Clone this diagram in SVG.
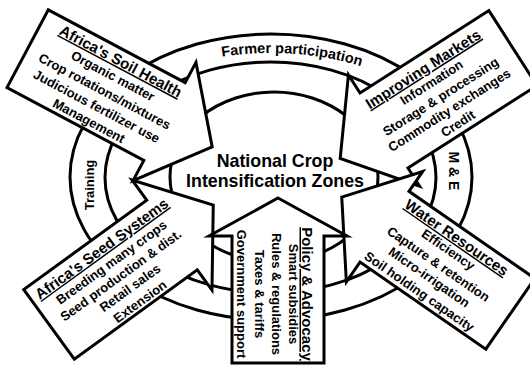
<svg xmlns="http://www.w3.org/2000/svg" width="530" height="365" viewBox="0 0 530 365">
  <style>
    .ring { fill: none; stroke: #000; stroke-width: 3; }
    .arrow { fill: #fff; stroke: #000; stroke-width: 3; stroke-linejoin: miter; stroke-miterlimit: 10; }
    text { font-family: "Liberation Sans", Arial, Helvetica, sans-serif; font-weight: bold; fill: #000; text-anchor: middle; }
    .head { font-size: 15px; text-decoration: underline; }
    .item { font-size: 13px; }
    .band { font-size: 14.5px; }
    .core { font-size: 17.8px; }
  </style>
  <defs>
    <path id="farmerArc" d="M200,61.1 A200,124 0 0,1 382,73.8"/>
  </defs>
  <rect width="530" height="365" fill="#fff"/>

  <!-- concentric rings -->
  <g id="rings">
    <ellipse class="ring" cx="271" cy="177" rx="201" ry="143"/>
    <ellipse class="ring" cx="270.5" cy="177.5" rx="165.5" ry="115.5"/>
    <ellipse class="ring" cx="274" cy="177" rx="104" ry="85"/>
    <text class="band"><textPath href="#farmerArc" startOffset="50%">Farmer participation</textPath></text>
    <text class="item" transform="translate(89,185) rotate(-90)" y="4.5">Training</text>
    <text class="item" transform="translate(453,171) rotate(90)" y="4.5" style="font-size:14px">M &amp; E</text>
  </g>

  <!-- block arrows pointing to the centre -->
  <g id="soil" transform="translate(164.5,121.5) rotate(28)">
    <polygon class="arrow" points="54,0 0,67 0,44 -155,44 -155,-44 0,-44 0,-67"/>
    <text class="head" x="-67" y="-27.5">Africa's Soil Health</text>
    <text class="item" x="-67" y="-11.5">Organic matter</text>
    <text class="item" x="-67" y="6">Crop rotations/mixtures</text>
    <text class="item" x="-67" y="23">Judicious fertilizer use</text>
    <text class="item" x="-67" y="39.5">Management</text>
  </g>

  <g id="markets" transform="translate(384,130.5) rotate(147.4)">
    <polygon class="arrow" points="52,0 0,66 0,44.5 -153,44.5 -153,-44.5 0,-44.5 0,-66"/>
    <g transform="rotate(180)">
      <text class="head" x="66" y="-25.5">Improving Markets</text>
      <text class="item" x="66" y="-10.5">Information</text>
      <text class="item" x="66" y="6.5">Storage &amp; processing</text>
      <text class="item" x="66" y="22.5">Commodity exchanges</text>
      <text class="item" x="66" y="38.5">Credit</text>
    </g>
  </g>

  <g id="seed" transform="translate(172,235) rotate(-36)">
    <polygon class="arrow" points="51,0 0,68 0,43 -152,43 -152,-43 0,-43 0,-68"/>
    <text class="head" x="-65" y="-25">Africa's Seed Systems</text>
    <text class="item" x="-65" y="-9">Breeding many crops</text>
    <text class="item" x="-65" y="7">Seed production &amp; dist.</text>
    <text class="item" x="-65" y="22.5">Retail sales</text>
    <text class="item" x="-65" y="39.5">Extension</text>
  </g>

  <g id="water" transform="translate(384.5,226.7) rotate(214.7)">
    <polygon class="arrow" points="52,0 0,67 0,43 -153,43 -153,-43 0,-43 0,-67"/>
    <g transform="rotate(180)">
      <text class="head" x="65.5" y="-27">Water Resources</text>
      <text class="item" x="65.5" y="-13">Efficiency</text>
      <text class="item" x="65.5" y="4.5">Capture &amp; retention</text>
      <text class="item" x="65.5" y="20.5">Micro-irrigation</text>
      <text class="item" x="65.5" y="38">Soil holding capacity</text>
    </g>
  </g>

  <g id="policy" transform="translate(278,236) rotate(-90)">
    <polygon class="arrow" points="38,0 0,69 0,46 -127,46 -127,-46 0,-46 0,-69"/>
    <g transform="rotate(180)">
      <text class="head" x="58" y="-24">Policy &amp; Advocacy</text>
      <text class="item" x="58" y="-11">Smart subsidies</text>
      <text class="item" x="58" y="6.5">Rules &amp; regulations</text>
      <text class="item" x="58" y="23.5">Taxes &amp; tariffs</text>
      <text class="item" x="58" y="41">Government support</text>
    </g>
  </g>

  <!-- centre label -->
  <g id="centre">
    <text class="core" x="275" y="167">National Crop</text>
    <text class="core" x="275" y="187">Intensification Zones</text>
  </g>
</svg>
